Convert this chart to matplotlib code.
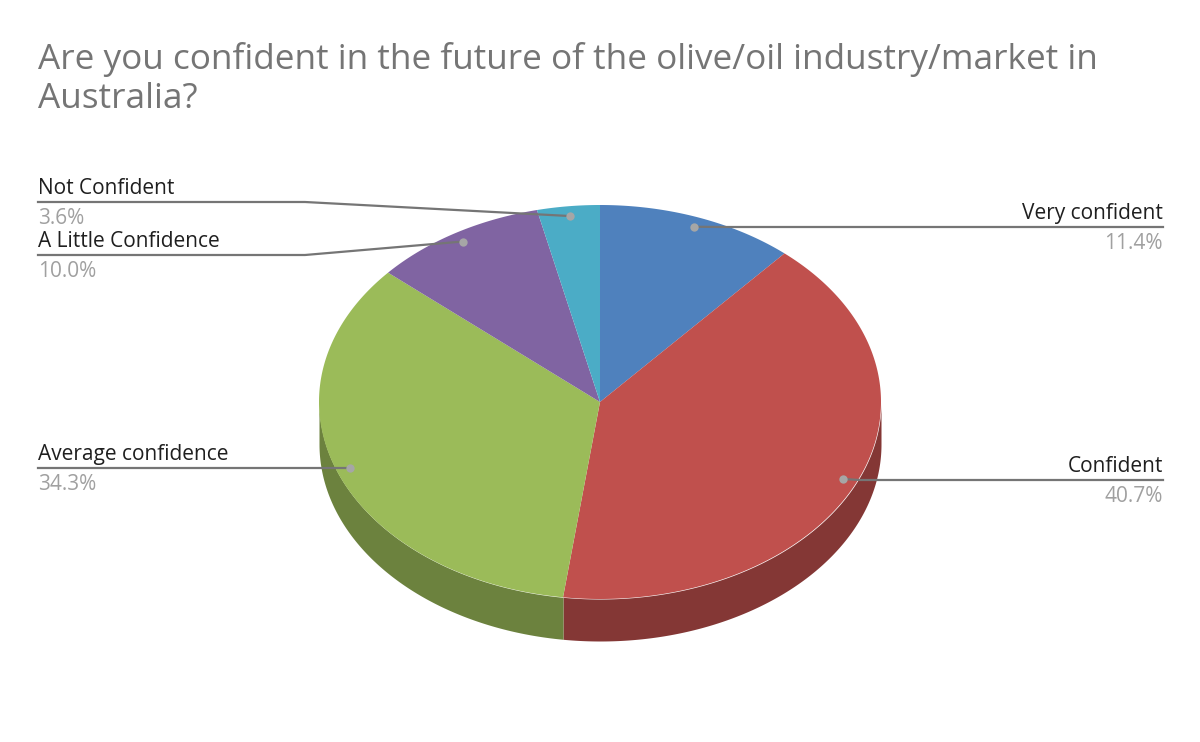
import numpy as np
import matplotlib
matplotlib.use("Agg")
import matplotlib.pyplot as plt

plt.rcParams['font.family'] = ['Open Sans', 'DejaVu Sans']

title = "Are you confident in the future of the olive/oil industry/market in\nAustralia?"
categories = ["Very confident", "Confident", "Average confidence", "A Little Confidence", "Not Confident"]
values = [11.4, 40.7, 34.3, 10.0, 3.6]
pct_labels = ["11.4%", "40.7%", "34.3%", "10.0%", "3.6%"]
colors = ["#4F81BD", "#C0504D", "#9BBB59", "#8064A2", "#4BACC6"]
dark = ["#3A5F8B", "#843735", "#6C823E", "#59466F", "#347788"]

W, H = 1200, 742
CX, CY, RX, RY, DEPTH = 600, 402, 281, 197, 42

fig = plt.figure(figsize=(W / 100, H / 100), dpi=100, facecolor="white")
ax = fig.add_axes([0, 0, 1, 1])
ax.set_xlim(0, W)
ax.set_ylim(H, 0)
ax.axis("off")

fracs = np.array(values) / sum(values)
edges = np.concatenate([[0], np.cumsum(fracs)]) * 2 * np.pi


def pt(theta, r=1.0):
    return CX + RX * r * np.sin(theta), CY - RY * r * np.cos(theta)


# side wall
for i in range(len(values)):
    a, b = max(edges[i], np.pi / 2), min(edges[i + 1], 3 * np.pi / 2)
    if b > a:
        t = np.linspace(a, b, 200)
        x, y = pt(t)
        ax.fill_between(x, y, y + DEPTH, color=dark[i], lw=0, zorder=1)

# top
for i in range(len(values)):
    t = np.linspace(edges[i], edges[i + 1], 300)
    x, y = pt(t)
    ax.fill(np.r_[CX, x], np.r_[CY, y], color=colors[i], lw=0, zorder=2)

# label layout: (text side, rule y, rule elbow x)
label_rule_y = [227, 480, 468, 255, 202]
label_elbow_x = [720, 860, 350, 305, 305]
right_side = [True, True, False, False, False]
LEFT, RIGHT = 38, 1163
GREY = "#757575"

for i, cat in enumerate(categories):
    mid = (edges[i] + edges[i + 1]) / 2
    ax_, ay_ = pt(mid, 0.95)
    ry = label_rule_y[i]
    end = RIGHT if right_side[i] else LEFT
    ax.plot([end, label_elbow_x[i], ax_], [ry, ry, ay_], color=GREY, lw=1.6, zorder=3,
            solid_joinstyle="round")
    ax.plot([ax_], [ay_], "o", ms=6, color="#A6A6A6", mew=0, zorder=4)
    ha = "right" if right_side[i] else "left"
    ax.text(end, ry - 8, cat, ha=ha, va="baseline", fontsize=15, color="#1f1f1f", zorder=5)
    ax.text(end, ry + 22, pct_labels[i], ha=ha, va="baseline", fontsize=15, color="#A0A0A0", zorder=5)

ax.text(38, 69, title.split("\n")[0], ha="left", va="baseline", fontsize=25.25, color="#757575")
ax.text(38, 108, title.split("\n")[1], ha="left", va="baseline", fontsize=25.25, color="#757575")

fig.savefig("out.png", dpi=100, facecolor="white")
